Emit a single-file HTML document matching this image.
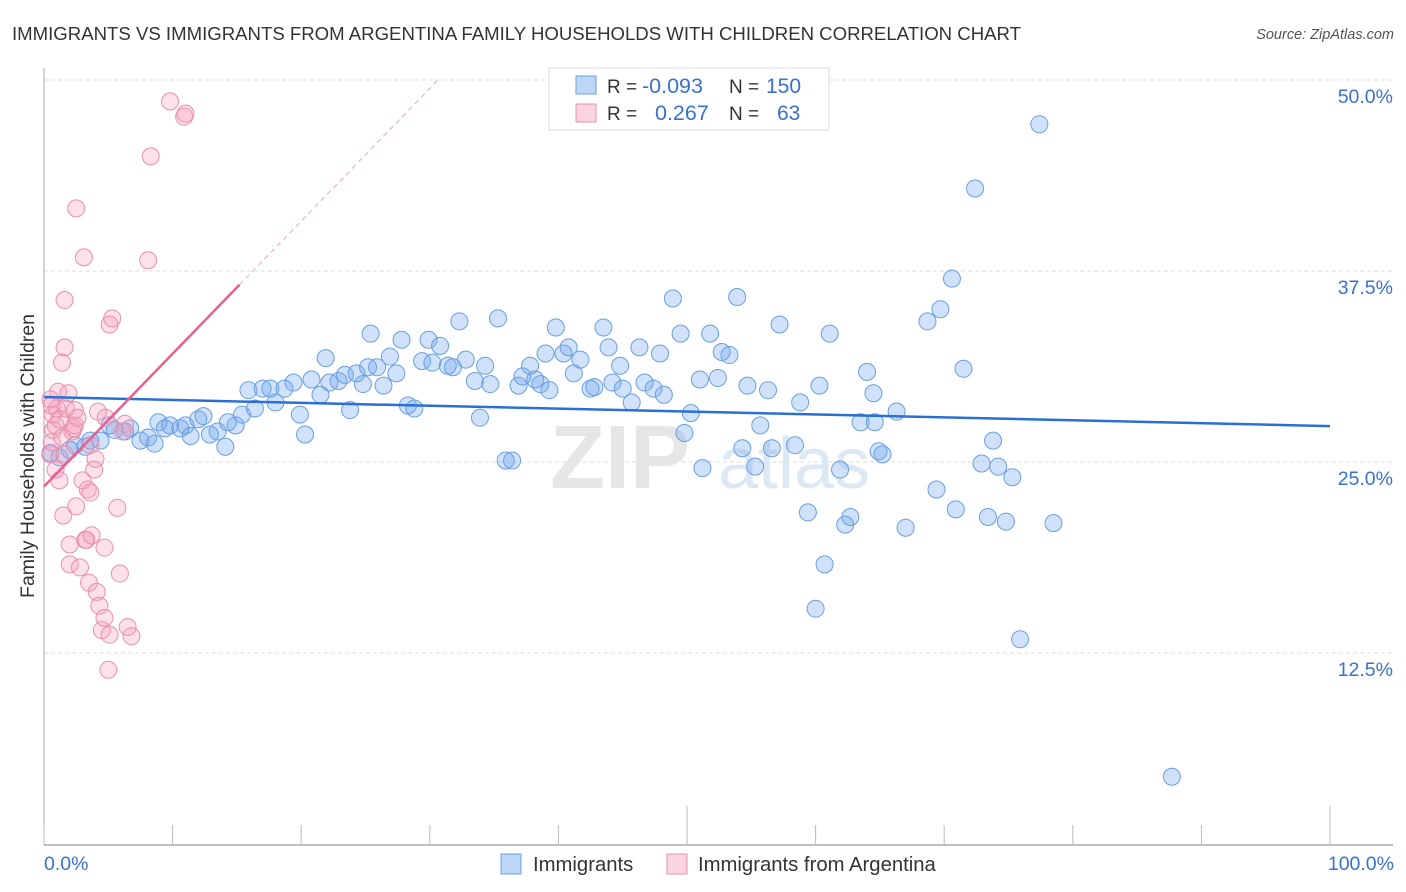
<!DOCTYPE html>
<html><head><meta charset="utf-8"><style>
body{margin:0;background:#fff;font-family:"Liberation Sans",sans-serif;}
svg{display:block}
</style></head><body>
<svg width="1406" height="892" xmlns="http://www.w3.org/2000/svg">
<text x="12" y="40" font-size="18.6" fill="#333">IMMIGRANTS VS IMMIGRANTS FROM ARGENTINA FAMILY HOUSEHOLDS WITH CHILDREN CORRELATION CHART</text>
<text x="1394" y="39" font-size="14.5" fill="#555" font-style="italic" text-anchor="end">Source: ZipAtlas.com</text>
<g id="grid"></g>
<text x="690" y="488" font-size="90" fill="#e6e6e6" text-anchor="end" font-weight="bold">ZIP</text>
<text x="718" y="488" font-size="72" fill="#dde8f5">atlas</text>
<g id="marks"></g>
<text transform="translate(34,456) rotate(-90)" font-size="19.5" fill="#333" text-anchor="middle">Family Households with Children</text>
<text x="44" y="870" font-size="19.5" fill="#3a70d0">0.0%</text>
<text x="1394" y="870" font-size="19.5" fill="#3a70d0" text-anchor="end">100.0%</text>
<g>
<rect x="549" y="68" width="280" height="62" fill="#fff" stroke="#ddd"/>
<rect x="576" y="76" width="20" height="18" fill="rgba(110,165,235,0.45)" stroke="#6a9fe0"/>
<rect x="576" y="104" width="20" height="18" fill="rgba(245,160,190,0.45)" stroke="#e890ad"/>
<text y="93" font-size="19" fill="#333"><tspan x="607">R =</tspan><tspan x="642" fill="#3a70d0" font-size="21.5">-0.093</tspan><tspan x="729">N =</tspan><tspan x="766" fill="#3a70d0" font-size="21">150</tspan></text>
<text y="120" font-size="19" fill="#333"><tspan x="607">R =</tspan><tspan x="655" fill="#3a70d0" font-size="21.5">0.267</tspan><tspan x="729">N =</tspan><tspan x="777" fill="#3a70d0" font-size="21">63</tspan></text>
</g>
<g>
<rect x="501" y="854" width="20" height="20" fill="rgba(110,165,235,0.45)" stroke="#6a9fe0"/>
<text x="533" y="871" font-size="20.3" fill="#333">Immigrants</text>
<rect x="667" y="854" width="20" height="20" fill="rgba(245,160,190,0.45)" stroke="#e890ad"/>
<text x="698" y="871" font-size="20.3" fill="#333">Immigrants from Argentina</text>
</g>
</svg>
<script>
const yTicks=[12.5,25,37.5,50];
const yTickLabels=["12.5%","25.0%","37.5%","50.0%"];
const xTicks=[0,10,20,30,40,50,60,70,80,90,100];
const blueX=[0.5,1.2,2.0,2.4,3.2,3.6,4.4,5.1,5.5,6.3,6.7,7.5,8.1,8.6,8.9,9.4,9.8,10.6,11.0,11.4,12.0,12.4,12.9,13.5,14.1,14.3,14.9,15.4,15.9,16.4,17.0,17.6,18.0,18.7,19.4,19.9,20.3,20.8,21.5,21.9,22.2,22.9,23.4,23.8,24.3,24.8,25.2,25.4,25.9,26.4,26.9,27.4,27.8,28.3,28.8,29.4,29.9,30.2,30.8,31.4,31.8,32.3,32.8,33.5,33.9,34.3,34.7,35.3,35.9,36.4,36.9,37.2,37.8,38.2,38.6,39.0,39.3,39.8,40.4,40.8,41.2,41.7,42.5,42.8,43.5,43.9,44.2,44.8,45.0,45.7,46.3,46.7,47.4,47.9,48.2,48.9,49.5,49.8,50.3,51.0,51.2,51.8,52.4,52.7,53.3,53.9,54.3,54.7,55.3,55.7,56.3,56.6,57.2,58.4,58.8,59.4,60.0,60.3,60.7,61.1,61.9,62.3,62.7,64.0,64.5,64.9,65.2,66.3,67.0,68.7,69.4,69.7,70.6,70.9,71.5,72.4,72.9,73.4,73.8,74.2,74.8,75.3,75.9,77.4,78.5,87.7,63.5,64.6];
const blueY=[25.6,25.3,25.8,26.1,26.0,26.4,26.4,27.4,27.1,27.0,27.2,26.4,26.6,26.2,27.6,27.2,27.4,27.2,27.4,26.7,27.8,28.0,26.8,27.0,26.0,27.6,27.4,28.1,29.7,28.5,29.8,29.8,28.9,29.8,30.2,28.1,26.8,30.4,29.4,31.8,30.2,30.3,30.7,28.4,30.8,30.1,31.2,33.4,31.2,30.0,31.9,30.8,33.0,28.7,28.5,31.6,33.0,31.5,32.6,31.3,31.2,34.2,31.7,30.3,27.9,31.3,30.1,34.4,25.1,25.1,30.0,30.6,31.3,30.4,30.1,32.1,29.7,33.8,32.1,32.5,30.8,31.7,29.8,29.9,33.8,32.5,30.2,31.3,29.8,28.9,32.5,30.2,29.8,32.1,29.4,35.7,33.4,26.9,28.2,30.4,24.6,33.4,30.5,32.2,32.0,35.8,25.9,30.0,24.7,27.4,29.7,25.9,34.0,26.1,28.9,21.7,15.4,30.0,18.3,33.4,24.5,20.9,21.4,30.9,29.5,25.7,25.5,28.3,20.7,34.2,23.2,35.0,37.0,21.9,31.1,42.9,24.9,21.4,26.4,24.7,21.1,24.0,13.4,47.1,21.0,4.4,27.6,27.6];
const pinkX=[0.5,0.6,0.7,0.9,0.7,1.0,1.1,1.2,1.4,1.5,1.6,1.6,1.4,1.7,1.9,2.0,2.0,2.2,2.3,2.4,2.5,2.4,2.6,2.5,2.8,3.0,3.1,3.2,3.3,3.4,3.5,3.6,3.7,3.9,4.0,4.1,4.2,4.3,4.5,4.7,4.7,4.8,5.0,5.1,5.1,5.3,5.7,5.9,6.1,6.3,6.5,6.8,8.1,8.3,9.8,10.9,11.0,0.9,1.2,0.5,0.6,3.6,1.6];
const pinkY=[25.5,26.3,27.1,27.4,28.1,28.5,29.6,23.8,26.6,21.5,32.5,35.6,31.5,28.5,29.5,19.6,18.3,27.0,27.2,27.4,41.6,28.4,27.9,22.1,18.1,23.8,38.4,19.9,19.9,23.2,17.1,23.0,20.2,24.5,25.2,16.5,28.3,15.6,14.0,14.8,19.4,27.9,11.4,13.7,34.0,34.4,22.0,17.7,27.0,27.5,14.2,13.6,38.2,45.0,48.6,47.6,47.8,24.5,27.8,29.1,28.7,26.1,25.5];
const blueTrend=[29.25,27.35];
const pinkTrend=[23.4,36.6];
const pinkSolidEnd=15.2;

const NS="http://www.w3.org/2000/svg";
const X0=44,X1=1330,Y0=844,YTOP=80;
function sx(v){return X0+(X1-X0)*v/100;}
function sy(v){return Y0-(Y0-YTOP)*v/50;}
function mk(tag,attrs,parent){const e=document.createElementNS(NS,tag);for(const k in attrs)e.setAttribute(k,attrs[k]);parent.appendChild(e);return e;}
const grid=document.getElementById('grid');
yTicks.forEach((t,i)=>{
  const l=mk('line',{x1:X0,x2:1393,y1:sy(t),y2:sy(t),stroke:'#ddd','stroke-dasharray':'4,3'},grid);
  
  
  const tx=mk('text',{x:1393,y:sy(t)+23,'font-size':19.5,fill:'#3a70d0','text-anchor':'end'},grid);
  tx.textContent=yTickLabels[i];
  
  
});
const ax=mk('line',{x1:X0,x2:X0,y1:68,y2:Y0+1,stroke:'#aaa'},grid);


const bx=mk('line',{x1:X0,x2:1393,y1:Y0+1,y2:Y0+1,stroke:'#aaa','stroke-width':1.5},grid);


xTicks.forEach(t=>{
  const l=mk('line',{x1:sx(t),x2:sx(t),y1:(t===50||t===100)?806:825,y2:Y0,stroke:'#bbb'},grid);
  
  
});
const marks=document.getElementById('marks');
blueX.forEach((x,i)=>{
  const c=mk('circle',{cx:sx(x),cy:sy(blueY[i]),r:8.5,fill:'rgba(110,165,235,0.32)',stroke:'#6a9fe0','stroke-width':1},marks);
  
  
});
pinkX.forEach((x,i)=>{
  const c=mk('circle',{cx:sx(x),cy:sy(pinkY[i]),r:8.5,fill:'rgba(245,160,190,0.32)',stroke:'#e890ad','stroke-width':1},marks);
  
  
});
const bt=mk('line',{x1:sx(0),y1:sy(blueTrend[0]),x2:sx(100),y2:sy(blueTrend[1]),stroke:'#2a6fd6','stroke-width':2.5},marks);


const slope=(pinkTrend[1]-pinkTrend[0])/pinkSolidEnd;
const pe=pinkTrend[0]+slope*pinkSolidEnd;
const pt=mk('line',{x1:sx(0),y1:sy(pinkTrend[0]),x2:sx(pinkSolidEnd),y2:sy(pe),stroke:'#e8608f','stroke-width':2.5},marks);


const xEnd=(50-pinkTrend[0])/slope;
const pd=mk('line',{x1:sx(pinkSolidEnd),y1:sy(pe),x2:sx(xEnd),y2:sy(50),stroke:'#f0a0bb','stroke-width':1,'stroke-dasharray':'5,4'},marks);


</script>
</body></html>
